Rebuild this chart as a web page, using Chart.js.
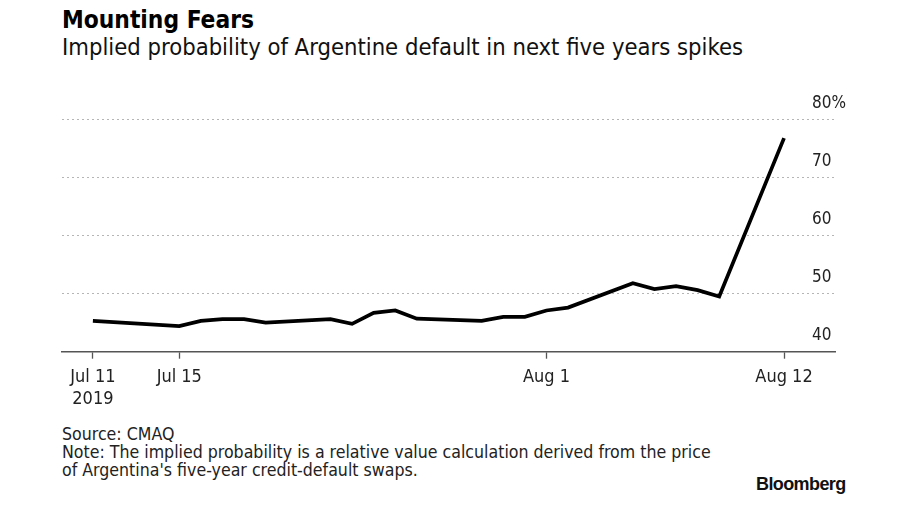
<!DOCTYPE html>
<html>
<head>
<meta charset="utf-8">
<script src="https://cdn.jsdelivr.net/npm/chart.js@4/dist/chart.umd.min.js"></script>
<style>
  html, body { margin: 0; padding: 0; background: #fff; }
  body { width: 900px; height: 505px; position: relative; overflow: hidden;
         font-family: "DejaVu Sans Condensed", "DejaVu Sans", sans-serif; font-stretch: condensed; color: #000; }
  .t { position: absolute; white-space: nowrap; line-height: 1; }
  #title { left: 62px; top: 8px; font-size: 24.3px; font-weight: bold; }
  #subtitle { left: 62px; top: 36px; font-size: 23.6px; color: #111; }
  #source { left: 62px; top: 425px; font-size: 17.6px; line-height: 18.2px; color: #222; }
  #brand { left: 756px; top: 475px; font-size: 18px; font-weight: bold; font-family: "Liberation Sans", Arial, sans-serif; letter-spacing: -0.6px; color: #111; }
  #wrap { position: absolute; left: 0; top: 0; width: 900px; height: 415px; }
</style>
</head>
<body>
<div class="t" id="title">Mounting Fears</div>
<div class="t" id="subtitle">Implied probability of Argentine default in next five years spikes</div>
<div class="t" id="source">Source: CMAQ<br>Note: The implied probability is a relative value calculation derived from the price<br>of Argentina's five-year credit-default swaps.</div>
<div class="t" id="brand">Bloomberg</div>
<div id="wrap"><canvas id="c"></canvas></div>
<script>
// ---- data ----
const dates = ['2019-07-11','2019-07-15','2019-07-16','2019-07-17','2019-07-18','2019-07-19',
               '2019-07-22','2019-07-23','2019-07-24','2019-07-25','2019-07-26',
               '2019-07-29','2019-07-30','2019-07-31','2019-08-01','2019-08-02',
               '2019-08-05','2019-08-06','2019-08-07','2019-08-08','2019-08-09','2019-08-12'];
const probability = [45.3, 44.4, 45.3, 45.6, 45.6, 45.0,
                     45.6, 44.8, 46.7, 47.1, 45.7,
                     45.3, 46.0, 46.0, 47.1, 47.6,
                     51.8, 50.8, 51.3, 50.6, 49.5, 76.8];
const tickDates = ['2019-07-11','2019-07-15','2019-08-01','2019-08-12'];
const tickLabels = [['Jul 11','2019'], 'Jul 15', 'Aug 1', 'Aug 12'];
const yTicks = [40, 50, 60, 70, 80];

// ---- helpers ----
const origin = Date.UTC(2019, 6, 11);
function dayIndex(s) { const p = s.split('-').map(Number); return (Date.UTC(p[0], p[1]-1, p[2]) - origin) / 86400000; }
const points = dates.map((d, i) => ({ x: dayIndex(d), y: probability[i] }));
const tickPos = tickDates.map(dayIndex);

const FONT = '"DejaVu Sans Condensed", "DejaVu Sans", sans-serif';
Chart.defaults.font.family = FONT;

new Chart(document.getElementById('c'), {
  type: 'line',
  data: { datasets: [{ data: points, borderColor: '#000', borderWidth: 3.7, pointRadius: 0, tension: 0, fill: false }] },
  options: {
    responsive: true, maintainAspectRatio: false, animation: false,
    layout: { padding: { left: 62, right: 65, top: 119.5, bottom: 3.3 } },
    plugins: { legend: { display: false }, tooltip: { enabled: false } },
    scales: {
      x: {
        type: 'linear', min: -1.43, max: 34.36,
        afterBuildTicks: (s) => { s.ticks = tickPos.map(v => ({ value: v })); },
        afterFit: (s) => { s.height = 60; },
        ticks: { autoSkip: false, maxRotation: 0, padding: 8, color: '#222', font: { size: 18 },
                 callback: (v) => { const i = tickPos.indexOf(v); return i >= 0 ? tickLabels[i] : ''; } },
        grid: { drawOnChartArea: false, drawTicks: true, tickLength: 7, tickColor: '#555', tickWidth: 1.3 },
        border: { display: true, color: '#555', width: 1.4 }
      },
      y: {
        position: 'right', min: 40, max: 80,
        afterBuildTicks: (s) => { s.ticks = yTicks.map(v => ({ value: v })); },
        afterFit: (s) => { s.width = 0; },
        ticks: { mirror: true, crossAlign: 'far', padding: 11, labelOffset: -16, color: '#222', font: { size: 17 },
                 callback: (v) => v === 80 ? '80%' : String(v) },
        grid: { drawTicks: false, color: (ctx) => ctx.tick && ctx.tick.value === 40 ? 'rgba(0,0,0,0)' : '#b5b5b5', lineWidth: 1 },
        border: { display: false, dash: [2, 3] }
      }
    }
  }
});
</script>
</body>
</html>
